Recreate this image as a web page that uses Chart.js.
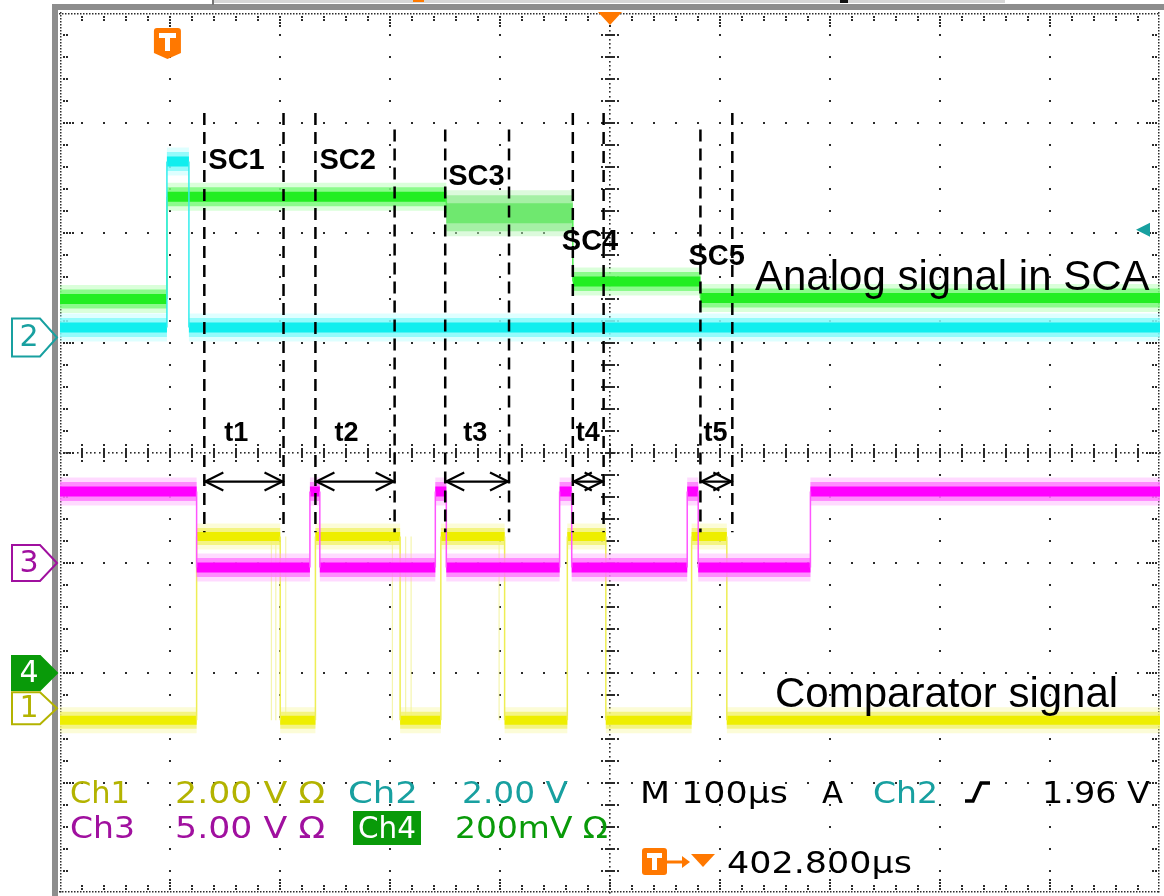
<!DOCTYPE html>
<html>
<head>
<meta charset="utf-8">
<title>SCA readout – scope capture</title>
<script src="https://cdn.jsdelivr.net/npm/chart.js@4.4.1/dist/chart.umd.min.js"></script>
<style>
  html, body { margin: 0; padding: 0; background: #fff; }
  #wrap { width: 1164px; height: 896px; position: relative; }
</style>
</head>
<body>
<div id="wrap"><canvas id="scope"></canvas></div>
<script>
// ---- acquisition settings (time in µs from the trigger, vertical in screen divisions) ----
const timePerDiv = 100;          // M 100µs
const triggerOffset = 402.8;     // T -> centre
const xMin = triggerOffset - 5 * timePerDiv;
const xMax = triggerOffset + 5 * timePerDiv;

// Ch4 – analog signal held in the SCA cells
const ch4Edges  = [0, 254, 369, 485];
const ch4Levels = [5.40, 6.33, 6.18, 5.56, 5.41];
// Ch2 – trigger pulse
const ch2Edges  = [0, 20];
const ch2Levels = [5.14, 6.65, 5.14];
// Ch3 – readout control
const ch3Edges  = [27, 130, 139, 244, 254, 357, 368, 473, 483, 585];
const ch3Levels = [3.65, 2.96, 3.65, 2.96, 3.65, 2.96, 3.65, 2.96, 3.65, 2.96, 3.65];
// Ch1 – comparator output
const ch1Edges  = [27, 103, 135, 212, 249, 307, 364, 399, 477, 509];
const ch1Levels = [1.57, 3.24, 1.57, 3.24, 1.57, 3.24, 1.57, 3.24, 1.57, 3.24, 1.57];
const ch1JitterEdges = [95, 99, 108, 205, 217, 222, 302, 314];

// Ground reference of each channel (divisions) and trigger level
const groundLevels = { ch1: 1.68, ch2: 5.05, ch3: 3.00, ch4: 2.00 };
const ch2VoltsPerDiv = 2.00;
const triggerLevel = 1.96;

// Conversion windows SC1..SC5 and the comparator times t1..t5
const windowStarts = [34, 135, 253, 369, 485];
const windowEnds   = [106, 207, 311, 397, 514];
const windowNames  = ['SC1', 'SC2', 'SC3', 'SC4', 'SC5'];
const timeNames    = ['t1', 't2', 't3', 't4', 't5'];

// ---- building line data from the edge/level lists ----
function plateaus(edges, levels, keep) {
  const pts = [];
  levels.forEach((lv, i) => {
    if (keep && !keep(i)) return;
    const a = i === 0 ? xMin : edges[i - 1];
    const b = i === levels.length - 1 ? xMax : edges[i];
    pts.push({ x: a, y: lv }, { x: b, y: lv }, { x: b, y: null });
  });
  return pts;
}
function transitions(edges, levels) {
  const pts = [];
  edges.forEach((e, i) => pts.push({ x: e, y: levels[i] }, { x: e, y: levels[i + 1] }, { x: e, y: null }));
  return pts;
}

const layout = {
  dashTopsStart: [7.09, 7.09, 6.94, 7.09, 6.94],
  dashTopsEnd:   [7.09, 6.94, 6.94, 7.09, 7.09],
  dashBottom: 3.28,
  arrowY: 3.74,
  scLabels: [{ dx: 4, y: 6.58 }, { dx: 4, y: 6.58 }, { dx: 3, y: 6.44 }, { dx: -11, y: 5.85 }, { dx: -12, y: 5.71 }],
  tLabelDx: [20, 19, 18, 3, 3],
  tLabelY: 4.11
};

function dashData() {
  const pts = [];
  windowStarts.forEach((s, i) => {
    pts.push({ x: s, y: layout.dashTopsStart[i] }, { x: s, y: layout.dashBottom }, { x: s, y: null });
    const e = windowEnds[i];
    pts.push({ x: e, y: layout.dashTopsEnd[i] }, { x: e, y: layout.dashBottom }, { x: e, y: null });
  });
  return pts;
}
function shaftData() {
  const pts = [];
  windowStarts.forEach((s, i) => pts.push({ x: s, y: layout.arrowY }, { x: windowEnds[i], y: layout.arrowY }, { x: s, y: null }));
  return pts;
}

const noisyCh4 = i => i === 2;
const quietCh4 = i => i !== 2;
const trace = (data, color, width, extra) => Object.assign({
  data, borderColor: color, borderWidth: width, pointRadius: 0, tension: 0,
  fill: false, spanGaps: false, borderCapStyle: 'butt', borderJoinStyle: 'miter'
}, extra || {});

// jitter of the comparator falling edge: alternate high/low so each mark is a full swing
const jitterLevels = ch1JitterEdges.map((e, i) => (i % 2 ? ch1Levels[0] : ch1Levels[1])).concat([ch1Levels[0]]);

// bottom -> top: fuzz, band, core and the thin transitions of every channel
const layers = [
  trace(plateaus(ch4Edges, ch4Levels, quietCh4), 'rgba(150,255,150,0.35)', 28),
  trace(plateaus(ch4Edges, ch4Levels, noisyCh4), 'rgba(185,245,185,0.5)', 46),
  trace(plateaus(ch4Edges, ch4Levels, quietCh4), 'rgba(120,250,120,0.8)', 19),
  trace(plateaus(ch4Edges, ch4Levels, noisyCh4), 'rgba(160,240,160,0.9)', 36),
  trace(plateaus(ch4Edges, ch4Levels, quietCh4), '#22ee22', 10),
  trace(plateaus(ch4Edges, ch4Levels, noisyCh4), '#6fe86f', 20),
  trace(transitions(ch4Edges, ch4Levels), '#55ee55', 1.5),
  trace(plateaus(ch2Edges, ch2Levels), 'rgba(160,255,255,0.35)', 28),
  trace(plateaus(ch2Edges, ch2Levels), 'rgba(130,250,250,0.8)', 19),
  trace(plateaus(ch2Edges, ch2Levels), '#11eeee', 10),
  trace(transitions(ch2Edges, ch2Levels), '#33eeee', 1.5),
  trace(transitions(ch1JitterEdges, jitterLevels), 'rgba(238,238,120,0.6)', 1.2),
  trace(plateaus(ch1Edges, ch1Levels), 'rgba(245,245,140,0.35)', 26),
  trace(plateaus(ch1Edges, ch1Levels), 'rgba(242,242,110,0.8)', 17),
  trace(plateaus(ch1Edges, ch1Levels), '#eeee00', 9),
  trace(transitions(ch1Edges, ch1Levels), '#eeee55', 1.5),
  trace(plateaus(ch3Edges, ch3Levels), 'rgba(255,150,255,0.35)', 28),
  trace(plateaus(ch3Edges, ch3Levels), 'rgba(255,120,255,0.8)', 19),
  trace(plateaus(ch3Edges, ch3Levels), '#ff00ff', 10),
  trace(transitions(ch3Edges, ch3Levels), '#ff55ff', 1.5),
  trace(dashData(), '#000', 2.5, { borderDash: [12, 7] }),
  trace(shaftData(), '#000', 2.2)
];
layers.forEach((d, i) => { d.order = layers.length - i; });

// ---- graticule ----
const scopeGrid = {
  id: 'scopeGrid',
  beforeDatasetsDraw(chart) {
    const { ctx, scales: { x, y } } = chart;
    const X = v => x.getPixelForValue(v), Y = v => y.getPixelForValue(v);
    const L = X(xMin), R = X(xMax), T = Y(8), B = Y(0);
    const cx = X(triggerOffset), cy = Y(4);
    ctx.save();
    // frame
    ctx.fillStyle = '#8d8d8d';
    ctx.fillRect(L - 8, T - 9, R - L + 12, 6);
    ctx.fillRect(L - 8, T - 9, 6, B - T + 15);
    ctx.fillStyle = '#d6d6d6';
    ctx.fillRect(213, 0, 792, 3);
    ctx.fillStyle = '#777';
    ctx.fillRect(212, 0, 2, 5);
    ctx.fillStyle = '#ff7a00';
    ctx.fillRect(413, 0, 11, 2);
    ctx.fillStyle = '#111';
    ctx.fillRect(840, 0, 8, 3);

    ctx.fillStyle = '#2b2b2b';
    const dot = (px, py, s) => { s = s || 2; ctx.fillRect(Math.round(px - s / 2), Math.round(py - s / 2), s, s); };
    const xMinor = timePerDiv / 5, yMinor = 0.2;
    // major lines (dotted at minor spacing)
    for (let i = 1; i < 10; i++) {
      if (i === 5) continue;
      const px = X(xMin + i * timePerDiv);
      for (let k = 1; k < 40; k++) dot(px, Y(k * yMinor));
    }
    for (let j = 1; j < 8; j++) {
      if (j === 4) continue;
      const py = Y(j);
      for (let k = 1; k < 50; k++) dot(X(xMin + k * xMinor), py);
    }
    // centre cross
    for (let k = 0; k <= 200; k++) dot(cx, Y(k * 0.04), 1.6);
    for (let k = 0; k <= 250; k++) dot(X(xMin + k * 4), cy, 1.6);
    for (let k = 1; k < 40; k++) {
      const py = Y(k * yMinor);
      ctx.fillRect(Math.round(cx - 5), Math.round(py - 1), 10, 2);
      dot(cx - 8, py); dot(cx + 8, py);
    }
    for (let k = 1; k < 50; k++) {
      const px = X(xMin + k * xMinor);
      ctx.fillRect(Math.round(px - 1), Math.round(cy - 5), 2, 10);
      dot(px, cy - 8); dot(px, cy + 8);
    }
    // border with ticks
    for (let p = T; p <= B; p += 3) { dot(L + 1, p, 1.5); dot(R - 1, p, 1.5); }
    for (let p = L; p <= R; p += 3) { dot(p, T + 1, 1.5); dot(p, B - 1, 1.5); }
    for (let k = 1; k < 40; k++) {
      const py = Y(k * yMinor), n = k % 5 === 0 ? 4 : 2;
      for (let m = 1; m <= n; m++) { dot(L + 1 + 3 * m, py); dot(R - 1 - 3 * m, py); }
    }
    for (let k = 1; k < 50; k++) {
      const px = X(xMin + k * xMinor), n = k % 5 === 0 ? 4 : 2;
      for (let m = 1; m <= n; m++) { dot(px, T + 1 + 3 * m); dot(px, B - 1 - 3 * m); }
    }
    ctx.restore();
  }
};

// ---- annotations, channel markers and readout ----
const colors = { ch1: '#b3b300', ch2: '#18a0a0', ch3: '#a0109f', ch4: '#099a09', trig: '#ff7800' };

function stretchText(ctx, text, x0, x1, baseline, color, font) {
  ctx.font = font;
  const w = ctx.measureText(text).width;
  ctx.save();
  ctx.translate(x0, baseline);
  ctx.scale((x1 - x0) / w, 1);
  ctx.fillStyle = color;
  ctx.fillText(text, 0, 0);
  ctx.restore();
}

function channelMarker(ctx, yTip, half, label, color, filled) {
  const top = yTip - half, bot = yTip + half;
  ctx.beginPath();
  ctx.moveTo(12, top); ctx.lineTo(40, top); ctx.lineTo(57, yTip); ctx.lineTo(40, bot); ctx.lineTo(12, bot); ctx.closePath();
  if (filled) { ctx.fillStyle = color; ctx.fill(); }
  ctx.strokeStyle = color; ctx.lineWidth = 2; ctx.stroke();
  ctx.fillStyle = filled ? '#fff' : color;
  ctx.font = '30px "DejaVu Sans"';
  ctx.textAlign = 'center'; ctx.textBaseline = 'middle';
  ctx.fillText(label, 29, yTip + 1);
  ctx.textAlign = 'left'; ctx.textBaseline = 'alphabetic';
}

function trigBadge(ctx, x0, y0, w, h, point) {
  ctx.fillStyle = colors.trig;
  ctx.beginPath();
  ctx.moveTo(x0 + 3, y0); ctx.lineTo(x0 + w - 3, y0); ctx.quadraticCurveTo(x0 + w, y0, x0 + w, y0 + 3);
  if (point) { ctx.lineTo(x0 + w, y0 + h - 6); ctx.lineTo(x0 + w / 2, y0 + h); ctx.lineTo(x0, y0 + h - 6); }
  else { ctx.lineTo(x0 + w, y0 + h - 3); ctx.quadraticCurveTo(x0 + w, y0 + h, x0 + w - 3, y0 + h); ctx.lineTo(x0 + 3, y0 + h); ctx.quadraticCurveTo(x0, y0 + h, x0, y0 + h - 3); }
  ctx.lineTo(x0, y0 + 3); ctx.quadraticCurveTo(x0, y0, x0 + 3, y0); ctx.closePath(); ctx.fill();
  ctx.fillStyle = '#fff';
  const cxm = x0 + w / 2;
  ctx.fillRect(Math.round(x0 + 5), Math.round(y0 + 5), Math.round(w - 10), 5);
  ctx.fillRect(Math.round(cxm - 2.5), Math.round(y0 + 5), 5, Math.round(h - (point ? 13 : 10)));
}

const scopeOverlay = {
  id: 'scopeOverlay',
  afterDatasetsDraw(chart) {
    const { ctx, scales: { x, y } } = chart;
    const X = v => x.getPixelForValue(v), Y = v => y.getPixelForValue(v);
    ctx.save();

    // arrow heads on the t-intervals
    ctx.strokeStyle = '#000'; ctx.lineWidth = 2.2;
    const ay = Y(layout.arrowY);
    windowStarts.forEach((s, i) => {
      const a = X(s), b = X(windowEnds[i]);
      ctx.beginPath();
      ctx.moveTo(a + 19, ay - 9); ctx.lineTo(a + 1, ay); ctx.lineTo(a + 19, ay + 9);
      ctx.moveTo(b - 19, ay - 9); ctx.lineTo(b - 1, ay); ctx.lineTo(b - 19, ay + 9);
      ctx.stroke();
    });

    // SC / t labels
    ctx.fillStyle = '#000';
    ctx.font = 'bold 29px "Liberation Sans", Arial, sans-serif';
    windowNames.forEach((n, i) => ctx.fillText(n, X(windowStarts[i]) + layout.scLabels[i].dx, Y(layout.scLabels[i].y)));
    ctx.font = 'bold 27px "Liberation Sans", Arial, sans-serif';
    timeNames.forEach((n, i) => ctx.fillText(n, X(windowStarts[i]) + layout.tLabelDx[i], Y(layout.tLabelY)));

    // signal names
    ctx.font = '42px "Liberation Sans", Arial, sans-serif';
    ctx.fillText('Analog signal in SCA', 755, 290);
    ctx.fillText('Comparator signal', 775, 707);

    // trigger markers
    trigBadge(ctx, X(0) - 13, 28, 27, 31, true);
    const cxp = X(triggerOffset);
    ctx.fillStyle = colors.trig;
    ctx.beginPath(); ctx.moveTo(cxp - 12, 12); ctx.lineTo(cxp + 12, 12); ctx.lineTo(cxp, 25); ctx.closePath(); ctx.fill();
    // trigger level (Ch2)
    const ty = Y(groundLevels.ch2 + triggerLevel / ch2VoltsPerDiv);
    ctx.fillStyle = colors.ch2;
    ctx.beginPath(); ctx.moveTo(1136, ty); ctx.lineTo(1150, ty - 7); ctx.lineTo(1150, ty + 7); ctx.closePath(); ctx.fill();

    // channel ground markers
    channelMarker(ctx, Y(groundLevels.ch2), 19, '2', colors.ch2, false);
    channelMarker(ctx, Y(groundLevels.ch3), 18, '3', colors.ch3, false);
    channelMarker(ctx, Y(groundLevels.ch4), 17, '4', colors.ch4, true);
    channelMarker(ctx, Y(groundLevels.ch1), 16, '1', colors.ch1, false);

    // readout
    const f = '31px "DejaVu Sans", sans-serif';
    stretchText(ctx, 'Ch1', 70, 130, 803, colors.ch1, f);
    stretchText(ctx, '2.00 V Ω', 175, 325, 803, colors.ch1, f);
    stretchText(ctx, 'Ch2', 348, 418, 803, colors.ch2, f);
    stretchText(ctx, '2.00 V', 462, 568, 803, colors.ch2, f);
    stretchText(ctx, 'M 100µs', 640, 788, 803, '#000', f);
    stretchText(ctx, 'A', 822, 843, 803, '#000', f);
    stretchText(ctx, 'Ch2', 873, 938, 803, colors.ch2, f);
    stretchText(ctx, '1.96 V', 1042, 1150, 803, '#000', f);
    // rising-slope symbol
    ctx.strokeStyle = '#000'; ctx.lineWidth = 3.5; ctx.lineCap = 'butt';
    ctx.beginPath(); ctx.moveTo(965, 801); ctx.lineTo(973, 801); ctx.lineTo(981, 783); ctx.lineTo(990, 783); ctx.stroke();

    stretchText(ctx, 'Ch3', 70, 135, 838, colors.ch3, f);
    stretchText(ctx, '5.00 V Ω', 175, 325, 838, colors.ch3, f);
    ctx.fillStyle = colors.ch4; ctx.fillRect(353, 811, 68, 34);
    stretchText(ctx, 'Ch4', 358, 416, 838, '#fff', f);
    stretchText(ctx, '200mV Ω', 455, 608, 838, colors.ch4, f);

    trigBadge(ctx, 642, 848, 25, 27, false);
    ctx.strokeStyle = colors.trig; ctx.lineWidth = 3;
    ctx.beginPath(); ctx.moveTo(667, 862); ctx.lineTo(684, 862); ctx.stroke();
    ctx.fillStyle = colors.trig;
    ctx.beginPath(); ctx.moveTo(682, 856); ctx.lineTo(690, 862); ctx.lineTo(682, 868); ctx.closePath(); ctx.fill();
    ctx.beginPath(); ctx.moveTo(691, 854); ctx.lineTo(715, 854); ctx.lineTo(703, 867); ctx.closePath(); ctx.fill();
    stretchText(ctx, '402.800µs', 727, 912, 873, '#000', f);

    ctx.restore();
  }
};

new Chart(document.getElementById('scope'), {
  type: 'line',
  data: { datasets: layers },
  options: {
    responsive: true,
    maintainAspectRatio: false,
    animation: false,
    events: [],
    layout: { padding: { left: 60, right: 4, top: 13, bottom: 3 } },
    scales: {
      x: { type: 'linear', min: xMin, max: xMax, display: false },
      y: { type: 'linear', min: 0, max: 8, display: false }
    },
    plugins: { legend: { display: false }, tooltip: { enabled: false } }
  },
  plugins: [scopeGrid, scopeOverlay]
});
</script>
</body>
</html>
